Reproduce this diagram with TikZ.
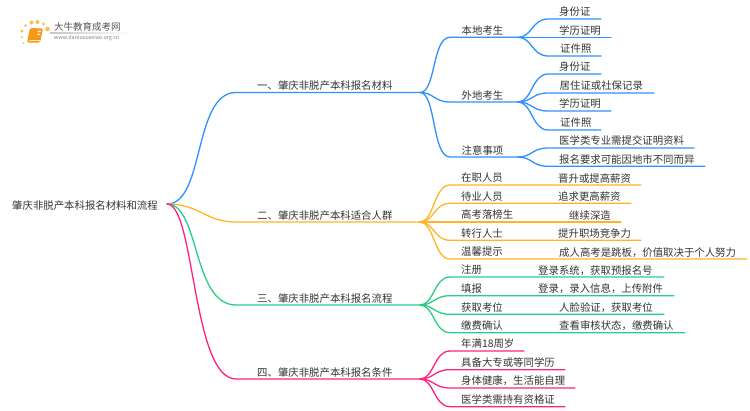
\documentclass[tikz,border=0pt]{standalone}
\usepackage{fontspec}
\setmainfont{Noto Sans CJK SC}
\usetikzlibrary{shadings,calc}
\definecolor{cblue}{HTML}{2F90FF}
\definecolor{corange}{HTML}{FFB428}
\definecolor{cgreen}{HTML}{27CF85}
\definecolor{cpink}{HTML}{FF2280}
\definecolor{ctext}{HTML}{333333}
\definecolor{cbook}{HTML}{F59A16}
\definecolor{cdot}{HTML}{FBC04A}
\tikzset{
  lbl/.style={anchor=west,inner sep=0pt,text=ctext,font=\fontsize{10.4}{12}\selectfont,text height=9.8pt,text depth=1.6pt},
  conn/.style={line width=1.3pt,line cap=round},
  dot/.style={fill=cdot,draw=none,circle,inner sep=0pt},
}
% \leafitem{colour}{name}{junction}{text x}{line start x}{line end x}{line y}{text}
\newcommand{\leafitem}[8]{%
  \coordinate (#2k) at (#5,#7);
  \coordinate (#2e) at (#6,#7);
  \node[lbl] (#2) at (#4,#7-7.2) {#8};
  \draw[conn,#1] (#3) .. controls ($(#3)+(14,0)$) and ($(#2k)+(-16,0)$) .. (#2k) -- (#2e);
}
\begin{document}
\begin{tikzpicture}[x=1pt,y=-1pt]
\useasboundingbox (0,0) rectangle (750,410);
% logo
\node[dot,minimum size=3.4pt] (d1) at (22,31) {};
\node[dot,minimum size=2.2pt] (d2) at (22,37) {};
\node[dot,minimum size=2pt] (d3) at (23.5,43) {};
\node[dot,minimum size=3pt] (d4) at (25.5,25.5) {};
\node[dot,minimum size=4pt] (d5) at (31.5,22.5) {};
\node[dot,minimum size=4pt] (d6) at (37.5,22) {};
\node[dot,minimum size=3.4pt] (d7) at (43.5,24) {};
\node[dot,minimum size=4.6pt] (d8) at (47.5,29) {};
\fill[cbook,rounded corners=1.5pt] (30,28) -- (43,28.5) -- (40,42.5) -- (27,42.5) -- cycle;
\fill[white!80!cbook] (38,30.5) -- (41,30.7) -- (40.6,32) -- (37.7,32) -- cycle;
\fill[white!80!cbook] (37.3,33.5) -- (40.3,33.5) -- (40,34.8) -- (37,34.8) -- cycle;
\draw[white!75!cbook,line width=.5pt] (28.5,40.5) -- (39.5,40.5);
\node[anchor=west,inner sep=0pt,text=ctext!85!white,font=\fontsize{9.5}{11}\selectfont] (logot) at (54,27) {大牛教育成考网};
\node[anchor=west,inner sep=0pt,text=gray,font=\fontsize{5.4}{7}\selectfont] (logou) at (54,38.5) {www.daniuxuexiao.org.cn};
\shade[left color=gray!45,right color=white,draw=none] (50,32.8) rectangle (132,33.5);
% root
\node[lbl] (root) at (12,205) {肇庆非脱产本科报名材料和流程};
\coordinate (r) at (167,204);
% level 1
\coordinate (a1) at (420,92.5);
\coordinate (a2) at (420,222);
\coordinate (a3) at (420,305);
\coordinate (a4) at (420,379);
\coordinate (a1k) at (236,92.5);
\coordinate (a2k) at (236,222);
\coordinate (a3k) at (236,305);
\coordinate (a4k) at (236,379);
\draw[conn,cblue] (r) .. controls (205,204) and (193,92.5) .. (a1k) -- (a1);
\draw[conn,corange] (r) .. controls (200,204) and (205,222) .. (a2k) -- (a2);
\draw[conn,cgreen] (r) .. controls (200,204) and (192,305) .. (a3k) -- (a3);
\draw[conn,cpink] (r) .. controls (195,204) and (192,379) .. (a4k) -- (a4);
\node[lbl] (t1) at (257,85.5) {一、肇庆非脱产本科报名材料};
\node[lbl] (t2) at (257,215) {二、肇庆非脱产本科适合人群};
\node[lbl] (t3) at (257,298) {三、肇庆非脱产本科报名流程};
\node[lbl] (t4) at (257,372) {四、肇庆非脱产本科报名条件};
% level 2 blue
\coordinate (b1) at (518,37.3);
\coordinate (b2) at (518,102);
\coordinate (b3) at (518,157);
\coordinate (b1k) at (450,37.3);
\coordinate (b2k) at (450,102);
\coordinate (b3k) at (450,157);
\draw[conn,cblue] (a1) .. controls (436,92.5) and (432,37.3) .. (b1k) -- (b1);
\draw[conn,cblue] (a1) .. controls (434,92.5) and (434,102) .. (b2k) -- (b2);
\draw[conn,cblue] (a1) .. controls (436,92.5) and (432,157) .. (b3k) -- (b3);
\node[lbl] (t11) at (461.5,30) {本地考生};
\node[lbl] (t12) at (461.5,95) {外地考生};
\node[lbl] (t13) at (461.5,150) {注意事项};
% leaves of blue
\leafitem{cblue}{c1}{b1}{559}{548}{601}{19}{身份证}
\leafitem{cblue}{c2}{b1}{559}{548}{611}{37.3}{学历证明}
\leafitem{cblue}{c3}{b1}{560}{548}{601}{56}{证件照}
\leafitem{cblue}{c4}{b2}{559}{548}{601}{74}{身份证}
\leafitem{cblue}{c5}{b2}{559.5}{548}{654}{93}{居住证或社保记录}
\leafitem{cblue}{c6}{b2}{559}{548}{611}{111}{学历证明}
\leafitem{cblue}{c7}{b2}{560}{548}{601}{130}{证件照}
\leafitem{cblue}{c8}{b3}{559}{548}{694}{148}{医学类专业需提交证明资料}
\leafitem{cblue}{c9}{b3}{559}{548}{705}{166.3}{报名要求可能因地市不同而异}
% orange
\leafitem{corange}{e1}{a2}{461}{450}{641}{185}{在职人员}
\leafitem{corange}{e2}{a2}{461}{450}{631}{203.3}{待业人员}
\leafitem{corange}{e3}{a2}{461}{450}{621}{222}{高考落榜生}
\leafitem{corange}{e4}{a2}{461}{450}{641}{240.3}{转行人士}
\leafitem{corange}{e5}{a2}{461}{450}{747}{259}{温馨提示}
\node[lbl] (f1) at (558,178) {晋升或提高薪资};
\node[lbl] (f2) at (558,196.3) {追求更高薪资};
\node[lbl] (f3) at (569,215) {继续深造};
\node[lbl] (f4) at (558,233.3) {提升职场竞争力};
\node[lbl] (f5) at (559,252) {成人高考是跳板，价值取决于个人努力};
% green
\leafitem{cgreen}{g1}{a3}{461}{450}{664}{277}{注册}
\leafitem{cgreen}{g2}{a3}{461}{450}{674}{295.7}{填报}
\leafitem{cgreen}{g3}{a3}{461}{450}{664}{314.3}{获取考位}
\leafitem{cgreen}{g4}{a3}{461}{450}{685}{332.7}{缴费确认}
\node[lbl] (h1) at (538,270) {登录系统，获取预报名号};
\node[lbl] (h2) at (538,288.7) {登录，录入信息，上传附件};
\node[lbl] (h3) at (559,307.3) {人脸验证，获取考位};
\node[lbl] (h4) at (559,325.7) {查看审核状态，缴费确认};
% pink
\leafitem{cpink}{p1}{a4}{461}{450}{524}{351}{年满18周岁}
\leafitem{cpink}{p2}{a4}{461}{450}{565}{369.7}{具备大专或等同学历}
\leafitem{cpink}{p3}{a4}{461}{450}{575}{388}{身体健康，生活能自理}
\leafitem{cpink}{p4}{a4}{461}{450}{565}{406.7}{医学类需持有资格证}
\end{tikzpicture}
\end{document}
